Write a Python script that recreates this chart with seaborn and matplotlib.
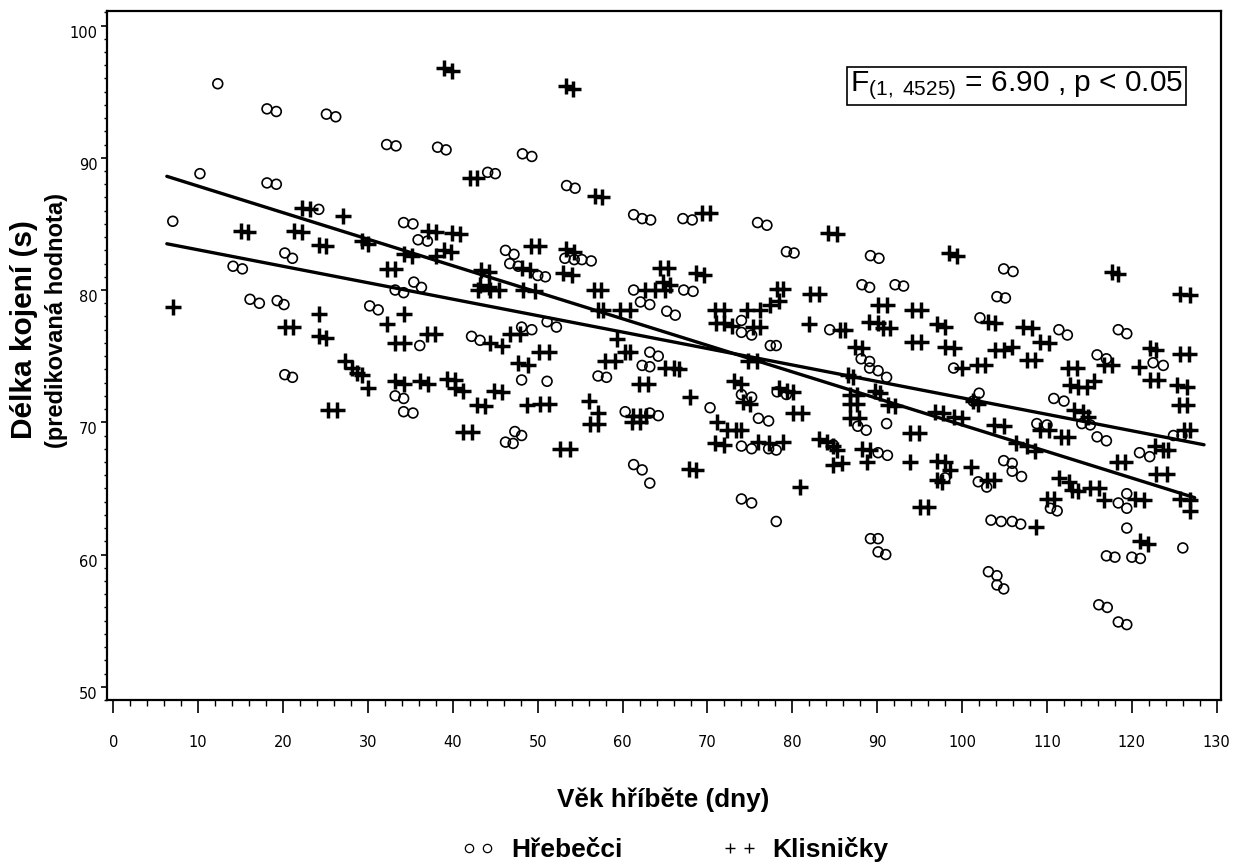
import numpy as np
import pandas as pd
import matplotlib
matplotlib.use("Agg")
import matplotlib.pyplot as plt
from matplotlib.lines import Line2D
from matplotlib.ticker import MultipleLocator
from matplotlib.transforms import ScaledTranslation
import seaborn as sns

# ---------------- data ----------------
hreb_x = [12.3, 18.1, 19.2, 25.1, 26.2, 32.2, 33.3, 10.2, 18.1, 19.2, 24.2, 7.0,
          34.2, 35.3, 35.9, 20.2, 21.1, 14.1, 15.2, 33.2, 34.2, 35.4, 36.3,
          16.1, 17.2, 19.3, 20.1, 20.2, 21.1, 30.2, 31.2, 33.2, 34.2, 34.2, 35.3, 36.1,
          42.2, 43.2, 48.1, 49.3, 48.1, 51.1, 46.2, 47.1, 47.3, 48.1, 51.1, 52.2,
          57.1, 58.1, 61.3, 62.1, 63.2, 65.2, 66.2, 67.2, 68.3, 63.2, 64.2, 62.3, 63.2,
          60.3, 63.2, 64.2, 61.3, 62.3, 63.2, 74.0, 74.0, 75.2, 74.0, 75.2, 77.4, 78.1,
          78.2, 79.3, 70.3, 76.0, 77.2, 74.0, 75.2, 77.2, 78.1, 74.0, 75.2, 78.1, 84.8,
          88.2, 89.1, 92.1, 93.1, 104.1, 105.1, 84.4, 102.1, 111.4, 112.4, 118.4, 119.4,
          88.1, 89.1, 89.1, 90.1, 91.1, 99.0, 115.9, 117.0, 122.5, 123.7, 124.9, 125.9,
          110.8, 112.0, 114.1, 115.1, 87.7, 88.7, 91.1, 101.3, 102.0, 108.8, 110.0,
          115.9, 117.0, 90.1, 91.2, 98.0, 104.9, 105.9, 105.9, 107.0, 101.9, 102.9,
          110.4, 111.2, 118.4, 119.4, 119.4, 120.9, 122.1, 119.4, 126.0, 103.4, 104.6,
          105.9, 106.9, 89.2, 90.1, 90.1, 91.0, 117.0, 118.0, 120.0, 121.0,
          103.1, 104.1, 104.1, 104.9, 116.1, 117.1, 118.4, 119.4,
          38.2, 39.2, 44.1, 45.0, 48.2, 49.3, 53.4, 54.4, 37.0, 46.2, 47.2, 46.7, 47.7,
          50.0, 50.9, 53.2, 54.3, 55.2, 56.3, 61.3, 62.3, 63.3, 67.1, 68.2, 75.9, 77.0,
          79.3, 80.2, 89.2, 90.2, 104.9, 106.0]
hreb_y = [95.6, 93.7, 93.5, 93.3, 93.1, 91.0, 90.9, 88.8, 88.1, 88.0, 86.1, 85.2,
          85.1, 85.0, 83.8, 82.8, 82.4, 81.8, 81.6, 80.0, 79.8, 80.6, 80.2,
          79.3, 79.0, 79.2, 78.9, 73.6, 73.4, 78.8, 78.5, 72.0, 71.8, 70.8, 70.7, 75.8,
          76.5, 76.2, 77.2, 77.0, 73.2, 73.1, 68.5, 68.4, 69.3, 69.0, 77.6, 77.2,
          73.5, 73.4, 80.0, 79.1, 78.9, 78.4, 78.1, 80.0, 79.9, 75.3, 75.0, 74.3, 74.2,
          70.8, 70.7, 70.5, 66.8, 66.4, 65.4, 77.7, 76.8, 76.6, 72.1, 71.9, 75.8, 75.8,
          72.3, 72.1, 71.1, 70.3, 70.1, 68.2, 68.0, 68.0, 67.9, 64.2, 63.9, 62.5, 68.3,
          80.4, 80.2, 80.4, 80.3, 79.5, 79.4, 77.0, 77.9, 77.0, 76.6, 77.0, 76.7,
          74.8, 74.6, 74.1, 73.9, 73.4, 74.1, 75.1, 74.8, 74.5, 74.3, 69.0, 69.0,
          71.8, 71.6, 69.9, 69.8, 69.7, 69.4, 69.9, 71.6, 72.2, 69.9, 69.8,
          68.9, 68.6, 67.7, 67.5, 65.8, 67.1, 66.9, 66.3, 65.9, 65.5, 65.1,
          63.5, 63.3, 63.9, 63.5, 64.6, 67.7, 67.4, 62.0, 60.5, 62.6, 62.5,
          62.5, 62.3, 61.2, 61.2, 60.2, 60.0, 59.9, 59.8, 59.8, 59.7,
          58.7, 58.4, 57.7, 57.4, 56.2, 56.0, 54.9, 54.7,
          90.8, 90.6, 88.9, 88.8, 90.3, 90.1, 87.9, 87.7, 83.7, 83.0, 82.7, 82.0, 81.8,
          81.1, 81.0, 82.4, 82.3, 82.3, 82.2, 85.7, 85.4, 85.3, 85.4, 85.3, 85.1, 84.9,
          82.9, 82.8, 82.6, 82.4, 81.6, 81.4]

klis_x = [22.2, 23.2, 15.0, 15.9, 21.3, 22.2, 27.1, 24.2, 25.1, 29.3, 30.0, 32.2, 33.2,
          34.2, 35.2, 7.0, 20.2, 21.2, 24.2, 24.2, 25.1, 25.3, 26.3, 27.3, 28.1, 28.7,
          29.3, 30.0, 32.2, 34.2, 33.2, 34.2, 33.2, 34.2,
          36.9, 37.9, 36.1, 37.1, 39.3, 40.3, 40.3, 41.2, 41.2, 42.2, 44.4, 45.8, 46.7,
          47.9, 44.8, 45.8, 42.8, 43.8, 47.7, 48.9, 50.1, 51.3, 48.7, 50.3, 51.3, 52.6,
          53.8, 56.0, 57.1, 56.2, 57.1, 56.6, 57.5, 57.1, 57.7, 57.9, 59.1, 59.3, 60.3,
          60.9, 59.7, 60.9, 62.6, 63.8, 65.0, 65.0, 66.0, 66.6, 61.9, 63.0, 61.2, 62.0,
          62.8, 61.1, 62.1, 67.9, 67.8, 68.7, 70.9, 71.9, 71.0, 72.0, 72.9, 75.4, 76.2,
          74.8, 75.8, 73.1, 74.0, 74.2, 75.0, 78.4, 79.4, 80.1, 80.1, 81.1, 71.1, 72.3,
          73.3, 74.0, 70.9, 71.9, 76.0, 77.2, 78.9, 80.9, 83.1, 84.1, 84.8, 85.2, 84.8,
          85.8, 43.0, 44.4, 45.4, 48.3, 49.7, 74.6, 76.2, 77.4, 78.4, 78.2, 78.9, 82.1,
          83.1, 81.9,
          90.1, 91.1, 94.1, 95.1, 125.7, 126.9, 85.6, 86.2, 89.0, 90.1, 90.7, 91.5, 94.1,
          95.1, 97.0, 98.0, 98.0, 99.0, 103.1, 103.9, 107.2, 108.2, 109.2, 110.2, 87.4,
          88.2, 86.6, 87.2, 103.9, 104.9, 105.9, 100.0, 101.7, 102.7, 107.6, 108.6,
          112.5, 113.5, 112.7, 113.7, 114.7, 115.5, 116.7, 117.6, 120.8, 122.1, 122.9,
          125.7, 126.7, 122.1, 123.1, 125.3, 126.5, 125.5, 126.5, 126.1, 126.9, 113.2,
          114.2, 114.8, 86.8, 87.6, 86.8, 87.6, 86.8, 87.8, 89.7, 90.3, 91.3, 92.1, 93.9,
          94.9, 96.8, 97.8, 99.0, 100.0, 101.3, 101.9, 103.7, 104.9, 109.2, 110.2, 111.6,
          112.5, 88.2, 89.2, 88.8, 93.9, 97.0, 98.0, 98.6, 97.6, 97.0, 101.0, 106.4,
          107.6, 108.6, 102.9, 103.7, 95.0, 96.0, 111.4, 112.6, 112.9, 113.7, 110.0,
          110.8, 115.1, 116.1, 116.7, 120.4, 121.4, 118.2, 119.2, 122.7, 123.7, 124.3,
          122.9, 124.1, 125.7, 126.9, 126.9, 108.7, 120.9, 121.9,
          38.9, 39.9, 42.0, 42.9, 53.3, 54.2, 56.8, 57.6, 37.1, 38.0, 39.9, 40.8, 38.9,
          39.8, 38.0, 43.3, 44.3, 43.2, 44.2, 49.2, 50.2, 48.2, 49.1, 53.3, 54.3, 53.0,
          54.0, 69.4, 70.3, 64.4, 65.3, 68.7, 69.6, 64.8, 65.6, 84.2, 85.2, 98.4, 99.4,
          117.6, 118.4]
klis_y = [86.2, 86.1, 84.5, 84.4, 84.5, 84.4, 85.6, 83.4, 83.3, 83.7, 83.5, 81.6, 81.6,
          82.7, 82.6, 78.7, 77.2, 77.2, 78.2, 76.5, 76.4, 70.9, 70.9, 74.6, 74.1, 73.7,
          73.6, 72.6, 77.4, 78.2, 76.0, 76.0, 73.1, 72.9,
          76.7, 76.7, 73.1, 72.9, 73.3, 73.2, 72.6, 72.4, 69.3, 69.3, 76.0, 75.8, 76.7,
          76.7, 72.4, 72.3, 71.3, 71.2, 74.5, 74.3, 75.3, 75.3, 71.3, 71.4, 71.4, 68.0,
          68.0, 71.6, 70.7, 69.9, 69.9, 80.0, 80.0, 78.5, 78.5, 74.6, 74.6, 76.3, 75.3,
          75.3, 78.5, 78.5, 80.0, 80.0, 80.0, 74.1, 74.1, 74.0, 72.9, 72.9, 70.5, 70.5,
          70.5, 70.0, 70.0, 71.9, 66.5, 66.4, 78.5, 78.5, 77.5, 77.5, 77.3, 77.2, 77.2,
          74.6, 74.6, 73.1, 72.9, 71.5, 71.4, 72.6, 72.4, 72.3, 70.7, 70.7, 70.0, 69.4,
          69.4, 69.4, 68.4, 68.3, 68.5, 68.4, 68.5, 65.1, 68.7, 68.5, 68.2, 67.9, 66.8,
          66.9, 80.0, 80.0, 80.0, 80.0, 79.9, 78.5, 78.5, 78.9, 79.2, 80.1, 80.1, 79.7,
          79.7, 77.4,
          78.9, 78.9, 78.5, 78.5, 79.7, 79.6, 77.0, 77.0, 77.6, 77.5, 77.1, 77.1, 76.1,
          76.1, 77.4, 77.2, 75.7, 75.6, 77.6, 77.5, 77.2, 77.1, 76.1, 76.0, 75.7,
          75.6, 73.6, 73.4, 75.5, 75.5, 75.7, 74.1, 74.3, 74.3, 74.7, 74.7,
          74.1, 74.1, 72.8, 72.7, 72.7, 73.1, 74.3, 74.3, 74.2, 75.6, 75.5,
          75.2, 75.2, 73.2, 73.2, 72.8, 72.7, 71.3, 71.3, 69.4, 69.4, 70.9,
          70.8, 70.4, 72.1, 72.1, 71.4, 71.4, 70.3, 70.3, 72.4, 72.2, 71.3, 71.2, 69.2,
          69.2, 70.8, 70.7, 70.4, 70.3, 71.6, 71.4, 69.8, 69.7, 69.4, 69.4, 68.9,
          68.9, 68.0, 67.9, 67.0, 67.0, 67.1, 67.0, 66.4, 65.5, 65.6, 66.6, 68.4,
          68.2, 67.8, 65.6, 65.6, 63.6, 63.6, 65.8, 65.5, 64.9, 64.8, 64.2,
          64.2, 65.0, 65.0, 64.1, 64.2, 64.1, 67.0, 67.0, 68.2, 67.9, 67.9,
          66.1, 66.1, 64.2, 64.1, 63.3, 62.1, 61.0, 60.8,
          96.8, 96.6, 88.5, 88.5, 95.4, 95.2, 87.1, 87.0, 84.5, 84.4, 84.3, 84.2, 83.0,
          82.9, 82.6, 81.5, 81.4, 80.4, 80.2, 83.3, 83.3, 81.7, 81.5, 83.1, 82.9, 81.3,
          81.1, 85.8, 85.8, 81.7, 81.7, 81.3, 81.1, 80.6, 80.4, 84.3, 84.2, 82.8, 82.6,
          81.4, 81.2]

# fitted regression lines (endpoints)
fit_x_a = [6.3, 127.4]
fit_y_a = [88.6, 64.3]
fit_x_b = [6.3, 128.5]
fit_y_b = [83.5, 68.3]

x_ticks = list(range(0, 131, 10))
y_ticks = [50, 60, 70, 80, 90, 100]
group_labels = ["Hřebečci", "Klisničky"]
stat_text = r"F$_{\mathregular{(1,\ 4525)}}$ = 6.90 , p < 0.05"

# ---------------- plotting ----------------
sns.set_theme(style="ticks")
plt.rcParams["font.family"] = ["Liberation Sans", "DejaVu Sans"]
plt.rcParams["mathtext.fontset"] = "custom"
plt.rcParams["mathtext.rm"] = "Liberation Sans"
plt.rcParams["mathtext.it"] = "Liberation Sans"
plt.rcParams["text.color"] = "black"
plt.rcParams["axes.labelcolor"] = "black"
plt.rcParams["xtick.color"] = "black"
plt.rcParams["ytick.color"] = "black"
plt.rcParams["axes.edgecolor"] = "black"

fig = plt.figure(figsize=(12.47, 8.68), dpi=100)
ax = fig.add_axes([107 / 1247, 1 - 700 / 868, (1221 - 107) / 1247, (700 - 11) / 868])

df_h = pd.DataFrame({"x": hreb_x, "y": hreb_y})
df_k = pd.DataFrame({"x": klis_x, "y": klis_y})

sns.scatterplot(data=df_h, x="x", y="y", ax=ax, marker="o", s=50,
                facecolors="none", edgecolor="black", linewidth=1.2, zorder=3)
sns.scatterplot(data=df_k, x="x", y="y", ax=ax, marker="+", s=120,
                color="black", linewidth=2.5, zorder=3)

sns.lineplot(x=fit_x_a, y=fit_y_a, ax=ax, color="black", linewidth=2.4, zorder=4)
sns.lineplot(x=fit_x_b, y=fit_y_b, ax=ax, color="black", linewidth=2.4, zorder=4)

ax.set_xlim(-0.75, 130.5)
ax.set_ylim(49.0, 101.1)
ax.set_xticks(x_ticks)
ax.set_yticks(y_ticks)
ax.xaxis.set_minor_locator(MultipleLocator(2))
ax.yaxis.set_minor_locator(MultipleLocator(1))
ax.tick_params(axis="x", which="major", direction="out", length=9, width=1.2,
               pad=16, labelsize=10.5, labelfontfamily="DejaVu Sans", colors="black")
ax.tick_params(axis="x", which="minor", direction="out", length=4, width=1.0, colors="black")
ax.tick_params(axis="y", which="major", direction="out", length=4, width=1.2,
               pad=3, labelsize=10.5, labelfontfamily="DejaVu Sans", colors="black")
ax.tick_params(axis="y", which="minor", direction="out", length=2.5, width=1.0, colors="black")
for lab in ax.get_yticklabels():
    lab.set_transform(lab.get_transform() + ScaledTranslation(0, -6 / 100, fig.dpi_scale_trans))
for sp in ax.spines.values():
    sp.set_visible(True)
    sp.set_color("black")
    sp.set_linewidth(1.6)
ax.set_xlabel("")
ax.set_ylabel("")

fig.text(0.532, 0.079, "Věk hříběte (dny)", ha="center", va="center",
         fontsize=18.8, fontweight="bold", color="black")
fig.text(0.019, 0.620, "Délka kojení (s)", ha="center", va="center",
         rotation=90, fontsize=21.5, fontweight="bold", color="black")
fig.text(0.0455, 0.631, "(predikovaná hodnota)", ha="center", va="center",
         rotation=90, fontsize=17, fontweight="bold", color="black")

ax.text(0.667, 0.891, stat_text, transform=ax.transAxes, ha="left", va="center",
        fontsize=21.5, color="black",
        bbox=dict(boxstyle="square,pad=0.1", fc="white", ec="black", lw=1.2))

handles = [
    Line2D([], [], linestyle="none", marker="o", markersize=6, markerfacecolor="none",
           markeredgecolor="black", markeredgewidth=0.9),
    Line2D([], [], linestyle="none", marker="+", markersize=7, color="black",
           markeredgewidth=1.0),
]
leg = fig.legend(handles, group_labels, loc="center", bbox_to_anchor=(0.541, 0.021),
                 ncol=2, frameon=False, numpoints=2, handlelength=1.3, handletextpad=0.6,
                 columnspacing=3.8, prop={"size": 19, "weight": "bold"})
for t in leg.get_texts():
    t.set_color("black")

fig.savefig("out.png", dpi=100, facecolor="white")
